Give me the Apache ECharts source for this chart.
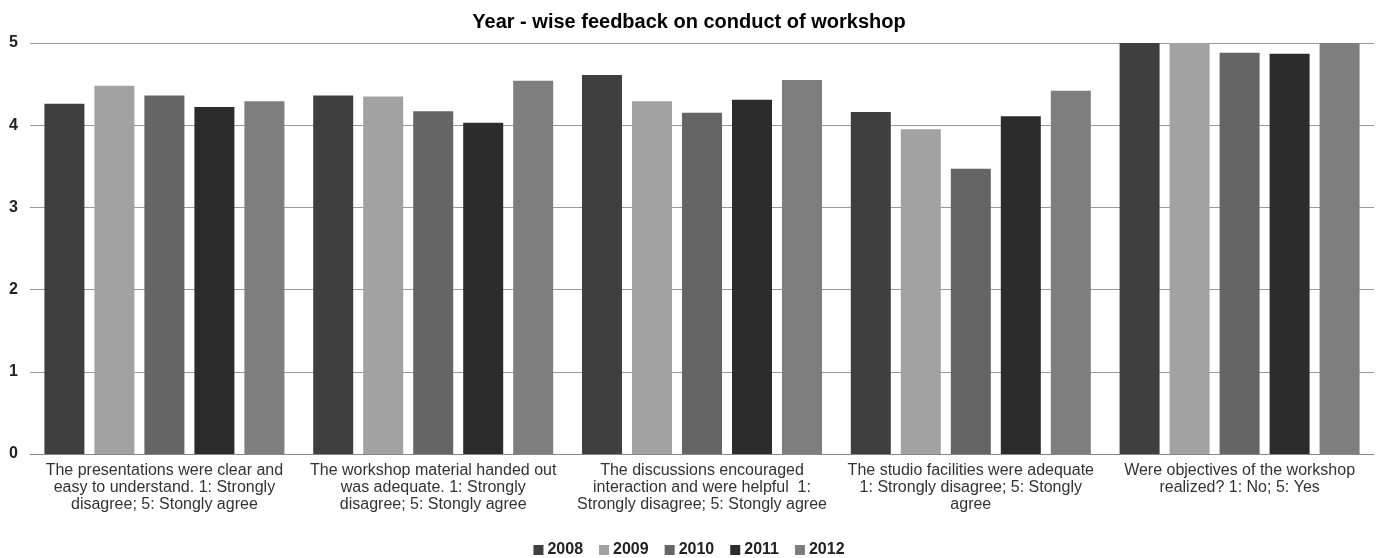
<!DOCTYPE html>
<html>
<head>
<meta charset="utf-8">
<script src="https://cdn.jsdelivr.net/npm/echarts@6/dist/echarts.min.js"></script>
<style>
  html, body { margin: 0; padding: 0; background: #fff; }
  #chart { width: 1378px; height: 558px; }
</style>
</head>
<body>
<div id="chart"></div>
<script>
// questions on the x axis
var categories = [
    'The presentations were clear and\neasy to understand. 1: Strongly\ndisagree; 5: Stongly agree',
    'The workshop material handed out\nwas adequate. 1: Strongly\ndisagree; 5: Stongly agree',
    'The discussions encouraged\ninteraction and were helpful  1:\nStrongly disagree; 5: Stongly agree',
    'The studio facilities were adequate\n1: Strongly disagree; 5: Stongly\nagree',
    'Were objectives of the workshop\nrealized? 1: No; 5: Yes'
];
var years = ['2008', '2009', '2010', '2011', '2012'];

var y2008 = [4.26, 4.36, 4.61, 4.16, 5.0];
var y2009 = [4.48, 4.35, 4.29, 3.95, 5.0];
var y2010 = [4.36, 4.17, 4.15, 3.47, 4.88];
var y2011 = [4.22, 4.03, 4.31, 4.11, 4.87];
var y2012 = [4.29, 4.54, 4.55, 4.42, 5.0];

var yTicks = [0, 1, 2, 3, 4, 5];

var colors = ['#3f3f3f', '#a2a2a2', '#656565', '#2c2c2c', '#7e7e7e'];
var values = [y2008, y2009, y2010, y2011, y2012];

var chart = echarts.init(document.getElementById('chart'));

var series = [];
for (var i = 0; i < years.length; i++) {
    series.push({
        name: years[i],
        type: 'bar',
        barWidth: 40,
        barGap: '25%',
        itemStyle: { color: colors[i] },
        data: values[i]
    });
}

chart.setOption({
    animation: false,
    color: colors,
    title: {
        text: 'Year - wise feedback on conduct of workshop',
        left: 'center',
        top: 7,
        textStyle: {
            fontFamily: 'Liberation Sans',
            fontWeight: 'bold',
            fontSize: 20,
            color: '#000'
        }
    },
    legend: {
        bottom: 0,
        padding: 0,
        left: 'center',
        itemWidth: 10,
        itemHeight: 10,
        itemGap: 16,
        icon: 'rect',
        textStyle: {
            fontFamily: 'Liberation Sans',
            fontWeight: 'bold',
            fontSize: 16,
            color: '#222',
            padding: [0, 0, 0, -1]
        },
        data: years
    },
    grid: {
        left: 30,
        right: 4,
        top: 43,
        bottom: 104,
        containLabel: false
    },
    xAxis: {
        type: 'category',
        data: categories,
        axisTick: { show: false },
        axisLine: { lineStyle: { color: '#888', width: 1 } },
        axisLabel: {
            interval: 0,
            margin: 8,
            fontFamily: 'Liberation Sans',
            fontSize: 16,
            lineHeight: 17,
            color: '#333'
        }
    },
    yAxis: {
        type: 'value',
        min: 0,
        max: 5,
        interval: 1,
        axisLine: { show: false },
        axisTick: { show: false },
        axisLabel: {
            margin: 12,
            fontFamily: 'Liberation Sans',
            fontWeight: 'bold',
            fontSize: 16,
            color: '#222',
            formatter: function (v) { return yTicks.indexOf(v) >= 0 ? String(v) : ''; }
        },
        splitLine: { lineStyle: { color: '#999', width: 1 } }
    },
    series: series
});
</script>
</body>
</html>
